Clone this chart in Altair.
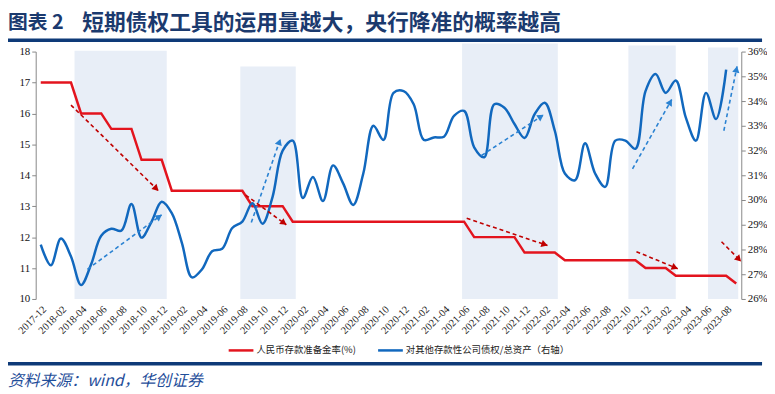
import math
import altair as alt
import pandas as pd

# ---------------- data ----------------
all_months = [f"{y}-{m:02d}" for y in range(2017, 2024) for m in range(1, 13)]
months = all_months[all_months.index("2017-12"): all_months.index("2023-09") + 1]

# 人民币存款准备金率(%)  (left axis)
rrr = [17, 17, 17, 17,
       16, 16, 16,
       15.5, 15.5, 15.5,
       14.5, 14.5, 14.5,
       13.5, 13.5, 13.5, 13.5, 13.5, 13.5, 13.5, 13.5,
       13, 13, 13, 13,
       12.5, 12.5, 12.5, 12.5, 12.5, 12.5, 12.5, 12.5, 12.5, 12.5, 12.5, 12.5,
       12.5, 12.5, 12.5, 12.5, 12.5, 12.5,
       12, 12, 12, 12, 12,
       11.5, 11.5, 11.5, 11.5,
       11.25, 11.25, 11.25, 11.25, 11.25, 11.25, 11.25, 11.25,
       11, 11, 11,
       10.75, 10.75, 10.75, 10.75, 10.75, 10.75,
       10.5]

# 对其他存款性公司债权/总资产 (%)  (right axis)
ratio = [28.2, 27.36, 28.44, 27.72, 26.56, 27.4, 28.56, 28.84, 28.76, 29.84,
         28.48, 29.13, 29.93, 29.47, 28.27, 26.87, 27.2, 27.93, 28.03, 28.87,
         29.13, 29.87, 29.04, 30.13, 32.0, 32.4, 30.08, 30.93, 29.96, 31.4,
         30.67, 29.8, 31.07, 33.0, 32.43, 34.33, 34.4, 33.87, 32.43, 32.53,
         32.56, 33.4, 33.6, 32.13, 31.73, 33.87, 33.73, 33.07, 32.51, 33.47,
         33.93, 32.8, 31.07, 30.8, 32.29, 31.07, 30.53, 32.4, 32.4, 32.07,
         34.4, 35.09, 34.33, 34.83, 33.33, 32.4, 34.33, 33.27, 35.27]

# shaded periods (x in month index units, top in left-axis units)
shade_start = [3.85, 20.3, 42.3, 58.8, 66.7]
shade_end = [13.0, 25.8, 51.8, 63.5, 69.7]
shade_top = [18.03, 17.52, 18.26, 18.2, 18.13]

# annotation arrows (x: month index units, y: left-axis units)
red_x1 = [3.50, 20.83, 42.76, 59.60, 68.04]
red_y1 = [16.27, 13.36, 12.61, 11.53, 11.85]
red_x2 = [12.17, 24.86, 50.77, 63.69, 69.97]
red_y2 = [13.50, 12.40, 11.73, 10.98, 11.22]
blue_x1 = [5.13, 21.39, 44.23, 59.21, 68.27]
blue_y1 = [10.96, 12.47, 14.64, 14.21, 15.44]
blue_x2 = [12.49, 24.27, 50.37, 63.10, 69.58]
blue_y2 = [12.72, 15.17, 15.95, 16.45, 17.52]

title_num = "图表 2"
title_text = "短期债权工具的运用量越大，央行降准的概率越高"
legend_red = "人民币存款准备金率(%)"
legend_blue = "对其他存款性公司债权/总资产（右轴）"
source_text = "资料来源：wind，华创证券"

# ---------------- style ----------------
W, H = 713, 250
RED = "#E3141E"
BLUE = "#1168BE"
DRED = "#C00000"
DBLUE = "#2A82D2"
SHADE = "#E8EEF7"
NAVY = "#0E3A78"
SERIF = "Liberation Serif"
CJK = "Noto Sans CJK SC"

px_x = W / 70.0
px_y = H / 8.0

xs = alt.Scale(domain=[0, 70], nice=False, zero=False)
yl = alt.Scale(domain=[10, 18], nice=False, zero=False)
yr = alt.Scale(domain=[26, 36], nice=False, zero=False)

df = pd.DataFrame({"pos": [i + 0.5 for i in range(len(months))],
                   "month": months, "rrr": rrr})
dfb = pd.DataFrame({"pos": [i + 0.5 for i in range(len(ratio))],
                    "ratio": ratio})
dfs = pd.DataFrame({"s": shade_start, "e": shade_end, "t": shade_top,
                    "b": [10] * len(shade_start)})
dfl = pd.DataFrame({"lpos": [i + 0.9 for i in range(0, len(months), 2)],
                    "month": months[::2]})   # every second month is labelled


def arrow_frame(x1, y1, x2, y2):
    rows = []
    for a, b, c, d in zip(x1, y1, x2, y2):
        ang = math.degrees(math.atan2((c - a) * px_x, (d - b) * px_y))
        rad = math.radians(ang)
        back = 3.0
        rows.append({"x1": a, "y1": b, "x2": c, "y2": d,
                     "hx": c - back * math.sin(rad) / px_x,
                     "hy": d - back * math.cos(rad) / px_y,
                     "ang": ang % 360})
    return pd.DataFrame(rows)


dfr = arrow_frame(red_x1, red_y1, red_x2, red_y2)
dfa = arrow_frame(blue_x1, blue_y1, blue_x2, blue_y2)

x_axis = alt.Axis(values=list(range(0, 70, 2)), labels=False,
                  domainColor="#000000", tickColor="#000000", tickSize=4,
                  grid=False, title=None)
yl_axis = alt.Axis(values=list(range(10, 19)), labelFont=SERIF, labelFontSize=11,
                   labelColor="#111111", domainColor="#888888", tickColor="#888888",
                   tickSize=4, grid=False, title=None, orient="left")
yr_axis = alt.Axis(values=list(range(26, 37)), labelExpr="datum.value + '%'",
                   labelFont=SERIF, labelFontSize=11, labelColor="#111111",
                   domainColor="#888888", tickColor="#888888", tickSize=4,
                   grid=False, title=None, orient="right")

shade = alt.Chart(dfs).mark_rect(color=SHADE, clip=False).encode(
    x=alt.X("s:Q", scale=xs, axis=None), x2="e:Q",
    y=alt.Y("b:Q", scale=yl, axis=None), y2="t:Q")

red = alt.Chart(df).mark_line(color=RED, strokeWidth=2.5).encode(
    x=alt.X("pos:Q", scale=xs, axis=x_axis),
    y=alt.Y("rrr:Q", scale=yl, axis=yl_axis))

blue = alt.Chart(dfb).mark_line(color=BLUE, strokeWidth=2.5,
                                interpolate="catmull-rom").encode(
    x=alt.X("pos:Q", scale=xs, axis=None),
    y=alt.Y("ratio:Q", scale=yr, axis=yr_axis))

xlabels = alt.Chart(dfl).mark_text(angle=315, align="right", baseline="middle",
                                   font=SERIF, fontSize=10.5, color="#222222",
                                   clip=False).encode(
    x=alt.X("lpos:Q", scale=xs, axis=None),
    y=alt.value(H + 9),
    text="month:N")


def arrows(d, color, dash):
    line = alt.Chart(d).mark_rule(color=color, strokeWidth=1.6,
                                  strokeDash=dash, clip=False).encode(
        x=alt.X("x1:Q", scale=xs, axis=None), x2="x2:Q",
        y=alt.Y("y1:Q", scale=yl, axis=None), y2="y2:Q")
    head = alt.Chart(d).mark_point(shape="triangle-up", filled=True, size=55,
                                   color=color, opacity=1, clip=False).encode(
        x=alt.X("hx:Q", scale=xs, axis=None),
        y=alt.Y("hy:Q", scale=yl, axis=None),
        angle=alt.Angle("ang:Q", scale=None))
    return [line, head]


one = pd.DataFrame({"a": [0]})


def txt(s, x, y, size, color, weight="normal", style="normal", font=CJK):
    return alt.Chart(one).mark_text(align="left", baseline="middle", font=font,
                                    fontSize=size, color=color, fontWeight=weight,
                                    fontStyle=style).encode(
        x=alt.value(x), y=alt.value(y), text=alt.value(s))


def hrule(x1, x2, y, color, width):
    return alt.Chart(one).mark_rule(color=color, strokeWidth=width).encode(
        x=alt.value(x1), x2=alt.value(x2), y=alt.value(y))


deco = [
    txt(title_num, -28, -29, 20, "#1B3A6E", weight="bold"),
    txt(title_text, 47, -29, 22, "#1B3A6E", weight="bold"),
    hrule(-31, 734, -11.5, NAVY, 3.5),
    hrule(195, 220, 302, RED, 2.5),
    txt(legend_red, 223, 302, 9.5, "#222222"),
    hrule(346, 371, 302, BLUE, 2.5),
    txt(legend_blue, 374, 302, 9.5, "#222222"),
    hrule(-31, 734, 315.5, NAVY, 3.5),
    txt(source_text, -28, 333, 16, "#1F4E9A", style="italic"),
]

chart = alt.layer(
    shade, red, blue, xlabels,
    *arrows(dfr, DRED, [4, 3]),
    *arrows(dfa, DBLUE, [4, 3]),
    *deco,
).resolve_scale(y="independent").properties(
    width=W, height=H,
    autosize=alt.AutoSizeParams(type="none"),
    padding={"left": 28, "top": 42, "right": 26, "bottom": 94},
).configure_view(stroke=None)

chart.save("out.html", embed_options={"renderer": "svg", "actions": False})
